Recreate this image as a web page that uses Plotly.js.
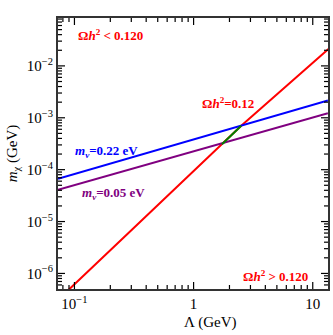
<!DOCTYPE html>
<html>
<head>
<meta charset="utf-8">
<script src="https://cdn.plot.ly/plotly-3.0.1.min.js"></script>
<style>body{margin:0;} #plot{width:333px;height:335px;}</style>
</head>
<body>
<div id="plot"></div>
<script>
// relic line Omega h^2 = 0.12 (Lambda in GeV, m_chi in GeV)
const relicL = [0.085, 0.0908, 0.316, 1.73, 2.51, 13.4, 14.5];
const relicM = [4.35e-7, 5.0e-7, 7.6e-6, 3.1e-4, 7.0e-4, 0.0207, 0.0245];
// allowed piece between the two neutrino lines
const greenL = [1.73, 2.51];
const greenM = [3.1e-4, 7.0e-4];
// m_nu = 0.22 eV and 0.05 eV
const nuL = [0.0728, 13.4];
const nu22M = [6.7e-5, 2.15e-3];
const nu05M = [4.1e-5, 1.22e-3];

const majorX = [0.1, 1, 10];
const majorXText = ['10<sup>\u22121</sup>', '1', '10'];
const majorY = [1e-6, 1e-5, 1e-4, 1e-3, 1e-2];
const majorYText = ['10<sup>\u22126</sup>', '10<sup>\u22125</sup>', '10<sup>\u22124</sup>', '10<sup>\u22123</sup>', '10<sup>\u22122</sup>'];

const xRange = [-1.138, 1.128];
const yRange = [-6.30, -1.077];

const W = 333, H = 335;
const margin = {l: 58, r: 5, t: 18, b: 46};
const plotW = W - margin.l - margin.r, plotH = H - margin.t - margin.b;

const font = 'Liberation Serif, Times New Roman, serif';

const minorVals = (lo, hi) => {
    const out = [];
    for (let e = lo; e <= hi; e++)
        for (let d = 2; d <= 9; d++) out.push(d * Math.pow(10, e));
    return out;
};

// tick marks on all four sides, drawn as short shapes (paper fraction along the log axis)
const frac = (v, r) => (Math.log10(v) - r[0]) / (r[1] - r[0]);
const shapes = [];
const tickLine = {color: '#000', width: 1.2};
const addX = (vals, len) => vals.forEach(v => {
    const p = frac(v, xRange);
    if (p <= 0 || p >= 1) return;
    const d = len / plotH;
    shapes.push({type: 'line', xref: 'paper', yref: 'paper', x0: p, x1: p, y0: 0, y1: d, line: tickLine, layer: 'above'});
    shapes.push({type: 'line', xref: 'paper', yref: 'paper', x0: p, x1: p, y0: 1, y1: 1 - d, line: tickLine, layer: 'above'});
});
const addY = (vals, len) => vals.forEach(v => {
    const p = frac(v, yRange);
    if (p <= 0 || p >= 1) return;
    const d = len / plotW;
    shapes.push({type: 'line', xref: 'paper', yref: 'paper', y0: p, y1: p, x0: 0, x1: d, line: tickLine, layer: 'above'});
    shapes.push({type: 'line', xref: 'paper', yref: 'paper', y0: p, y1: p, x0: 1, x1: 1 - d, line: tickLine, layer: 'above'});
});
addX(majorX, 7);
addX(minorVals(-2, 1), 4);
addY(majorY, 7);
addY(minorVals(-7, -2), 4);

const traces = [
    {x: relicL, y: relicM, type: 'scatter', mode: 'lines', line: {color: '#ff0000', width: 2}},
    {x: nuL, y: nu22M, type: 'scatter', mode: 'lines', line: {color: '#0000ff', width: 2}},
    {x: nuL, y: nu05M, type: 'scatter', mode: 'lines', line: {color: '#800080', width: 2}},
    {x: greenL, y: greenM, type: 'scatter', mode: 'lines', line: {color: '#008000', width: 2}},
];

const axisBase = {
    type: 'log',
    showline: true, linecolor: '#333', linewidth: 2, mirror: true,
    ticks: '', showgrid: false, zeroline: false,
    tickfont: {family: font, size: 15, color: '#000'},
};

const ann = (text, x, y, color, size) => ({
    text, x, y, xref: 'paper', yref: 'paper', showarrow: false,
    xanchor: 'center', yanchor: 'middle',
    font: {family: font, size: size || 13, color},
});

Plotly.newPlot('plot', traces, {
    width: W, height: H,
    margin: margin,
    paper_bgcolor: '#fff', plot_bgcolor: '#fff',
    showlegend: false,
    xaxis: Object.assign({}, axisBase, {
        range: xRange,
        tickvals: majorX, ticktext: majorXText,
    }),
    yaxis: Object.assign({}, axisBase, {
        range: yRange,
        tickvals: majorY, ticktext: majorYText,
        title: {text: '<i>m</i><sub>\u03c7</sub> (GeV)', font: {family: font, size: 15, color: '#000'}, standoff: 6},
    }),
    shapes: shapes,
    annotations: [
        ann('\u039b (GeV)', 0.563, -0.122, '#000', 15),
        ann('<b>\u03a9<i>h</i><sup>2</sup> < 0.120</b>', 0.196, 0.937, '#ff0000'),
        ann('<b>\u03a9<i>h</i><sup>2</sup>=0.12</b>', 0.63, 0.686, '#ff0000'),
        ann('<b><i>m<sub>\u03bd</sub></i>=0.22 eV</b>', 0.181, 0.509, '#0000ff'),
        ann('<b><i>m<sub>\u03bd</sub></i>=0.05 eV</b>', 0.204, 0.354, '#800080'),
        ann('<b>\u03a9<i>h</i><sup>2</sup> > 0.120</b>', 0.807, 0.048, '#ff0000'),
    ],
}, {displayModeBar: false, staticPlot: true});
</script>
</body>
</html>
